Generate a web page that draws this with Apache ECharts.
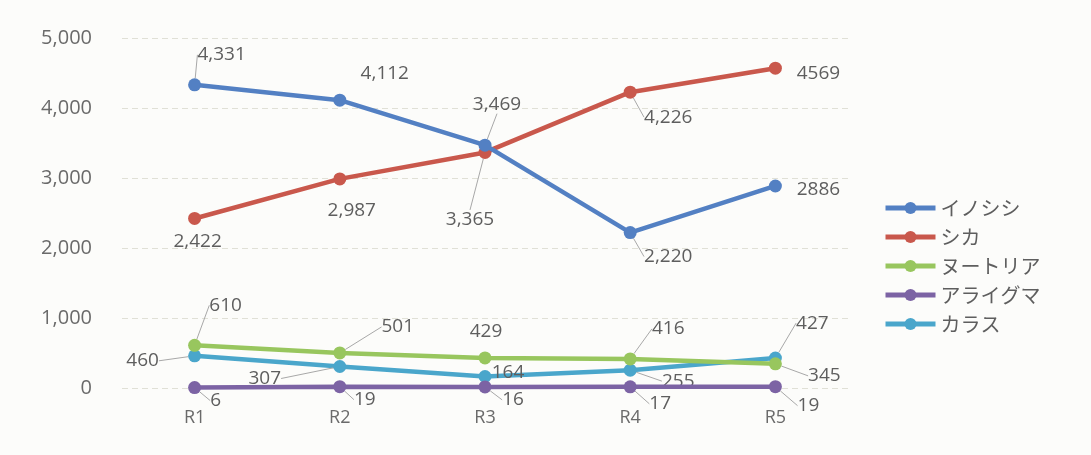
<!DOCTYPE html>
<html>
<head>
<meta charset="utf-8">
<script src="https://cdn.jsdelivr.net/npm/echarts@6/dist/echarts.min.js"></script>
<style>
  html, body { margin: 0; padding: 0; background: #fcfcfa; }
  #chart { width: 1091px; height: 455px; }
</style>
</head>
<body>
<div id="chart"></div>
<script>
// data
var categories = ["R1", "R2", "R3", "R4", "R5"];
var seriesNames = ["イノシシ", "シカ", "ヌートリア", "アライグマ", "カラス"];
var inoshishi = [4331, 4112, 3469, 2220, 2886];
var shika = [2422, 2987, 3365, 4226, 4569];
var nutria = [610, 501, 429, 416, 345];
var araiguma = [6, 19, 16, 17, 19];
var karasu = [460, 307, 164, 255, 427];
var yTicks = [0, 1000, 2000, 3000, 4000, 5000];
// the last points of the first two series are printed without a comma
var plainLabels = [[0, 4], [1, 4]];

var colors = ["#5380c3", "#c9584c", "#98c65e", "#7c63a4", "#4aa6cb"];

// label offsets [dx, dy, leader line] relative to the point
var labelOffsets = [
    [[27, -30, 1], [45, -27, 0], [12, -41, 1], [38, 24, 1], [43, 4, 0]],
    [[3, 23, 0], [12, 32, 0], [-15, 67, 1], [38, 25, 1], [43, 5, 0]],
    [[31, -40, 1], [58, -26, 1], [1, -26, 0], [38, -30, 1], [49, 12, 1]],
    [[21, 13, 1], [25, 13, 1], [28, 13, 1], [30, 17, 1], [33, 19, 1]],
    [[-52, 5, 1], [-75, 12, 1], [23, -4, 0], [48, 11, 1], [37, -35, 1]],
];

var allData = [inoshishi, shika, nutria, araiguma, karasu];
var font = "'Open Sans', 'Noto Sans CJK JP', sans-serif";
var jpFont = "'Noto Sans CJK JP', sans-serif";

var chart = echarts.init(document.getElementById("chart"));

var series = allData.map(function (values, si) {
    return {
        name: seriesNames[si],
        type: "line",
        data: values.map(function (v, i) {
            return {
                value: v,
                labelLine: { show: labelOffsets[si][i][2] === 1 },
            };
        }),
        color: colors[si],
        symbol: "circle",
        symbolSize: 13,
        lineStyle: { width: 4.5 },
        z: 10 - si,
        label: {
            show: true,
            position: "inside",
            color: "#5e5e5e",
            fontSize: 19,
            fontFamily: font,
            formatter: function (p) {
                for (var k = 0; k < plainLabels.length; k++) {
                    if (plainLabels[k][0] === p.seriesIndex && plainLabels[k][1] === p.dataIndex) {
                        return String(p.value);
                    }
                }
                return p.value.toLocaleString("en-US");
            },
        },
        labelLine: {
            show: true,
            lineStyle: { color: "#a8a8a8", width: 1 },
        },
        labelLayout: function (p) {
            var o = labelOffsets[p.seriesIndex][p.dataIndex];
            return { dx: o[0], dy: o[1] };
        },
        emphasis: { disabled: true },
        animation: false,
    };
});

chart.setOption({
    backgroundColor: "#fcfcfa",
    animation: false,
    grid: { left: 122, right: 243, top: 38, bottom: 67 },
    legend: {
        orient: "vertical",
        left: 878,
        top: 193,
        itemWidth: 50,
        itemHeight: 15,
        itemGap: 9,
        lineStyle: { width: 5 },
        textStyle: { color: "#5e5e5e", fontSize: 20, fontFamily: jpFont },
        data: seriesNames,
    },
    xAxis: {
        type: "category",
        data: categories,
        boundaryGap: true,
        axisLine: { show: false },
        axisTick: { show: false },
        axisLabel: { color: "#6a6a6a", fontSize: 18, fontFamily: font, margin: 21 },
    },
    yAxis: {
        type: "value",
        min: yTicks[0],
        max: yTicks[yTicks.length - 1],
        interval: 1000,
        axisLine: { show: false },
        axisTick: { show: false },
        axisLabel: {
            color: "#6a6a6a",
            fontSize: 20,
            fontFamily: font,
            margin: 30,
            formatter: function (v) { return v.toLocaleString("en-US"); },
        },
        splitLine: { lineStyle: { color: "#e0e0d6", type: [6, 4], width: 1 } },
    },
    series: series,
});
</script>
</body>
</html>
